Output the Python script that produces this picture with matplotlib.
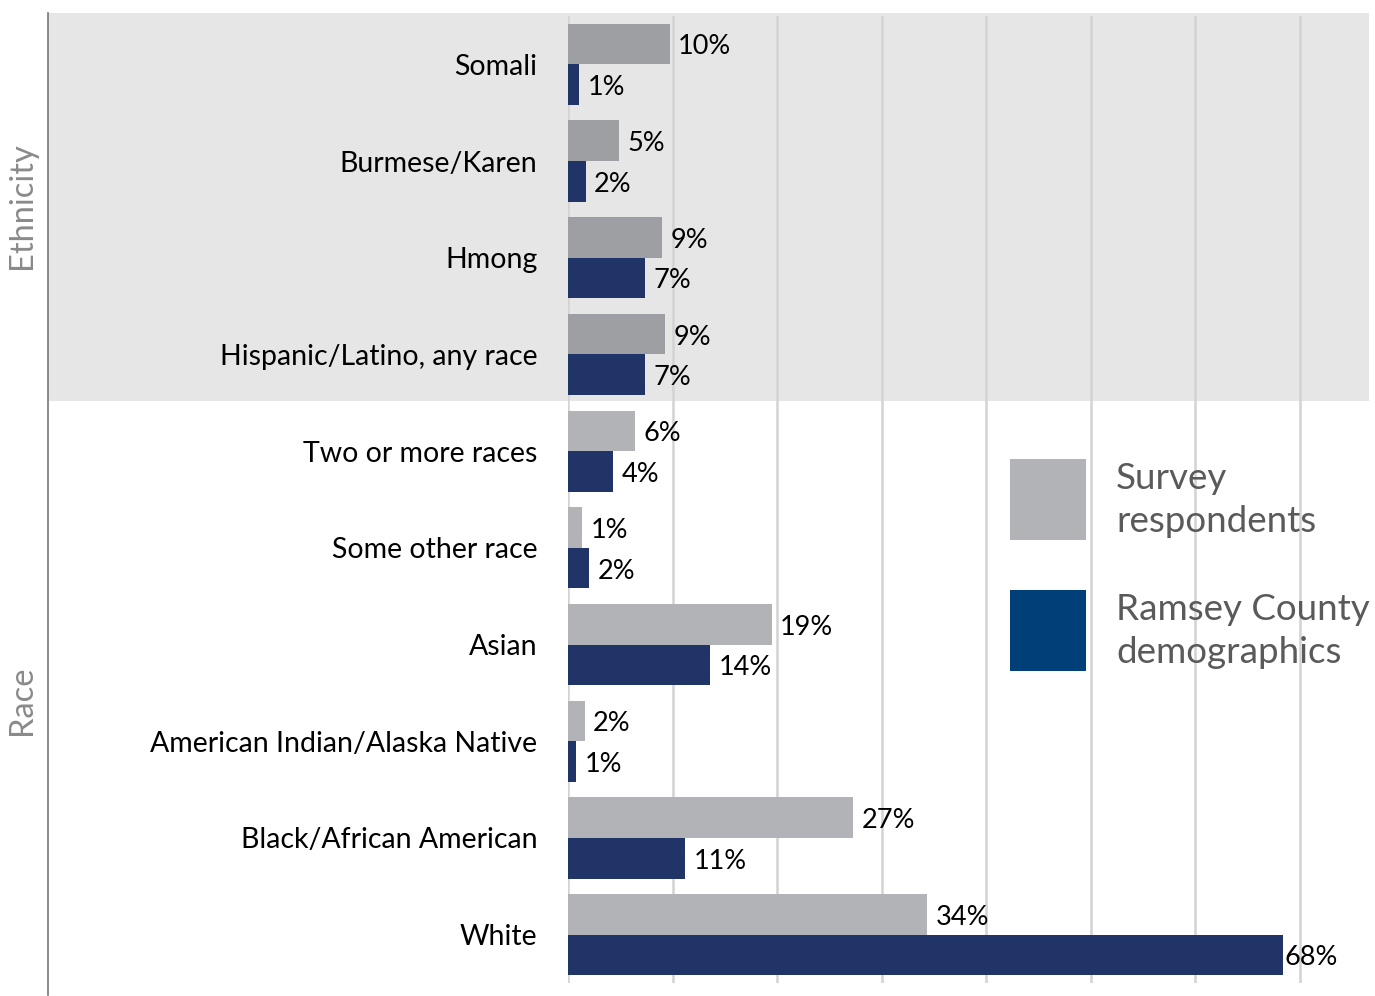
import matplotlib
matplotlib.use("Agg")
import matplotlib.pyplot as plt
import matplotlib.transforms as mtransforms
from matplotlib.patches import Rectangle
import numpy as np

categories = ["Somali", "Burmese/Karen", "Hmong", "Hispanic/Latino, any race",
              "Two or more races", "Some other race", "Asian",
              "American Indian/Alaska Native", "Black/African American", "White"]
groups = ["Ethnicity"] * 4 + ["Race"] * 6
survey = [9.75, 4.85, 9.0, 9.3, 6.4, 1.35, 19.5, 1.6, 27.3, 34.4]
county = [1.05, 1.7, 7.4, 7.4, 4.3, 2.0, 13.6, 0.76, 11.2, 68.4]
survey_labels = ["10%", "5%", "9%", "9%", "6%", "1%", "19%", "2%", "27%", "34%"]
county_labels = ["1%", "2%", "7%", "7%", "4%", "2%", "14%", "1%", "11%", "68%"]
legend_labels = ["Survey\nrespondents", "Ramsey County\ndemographics"]

W, H = 1375, 996
fig = plt.figure(figsize=(W / 100, H / 100), dpi=100)
ax = fig.add_axes([568 / W, (H - 983) / H, (1369 - 568) / W, 967 / H])
ax.patch.set_facecolor("none")

n = len(categories)
y = np.arange(n)
bh = 0.42
off = 0.21
gray_eth, gray_race = "#9d9fa2", "#b1b3b6"
navy = "#203467"
sc = [gray_eth if g == "Ethnicity" else gray_race for g in groups]

ax.barh(y - off, survey, height=bh, color=sc, zorder=2)
ax.barh(y + off, county, height=bh, color=navy, zorder=2)

lfont = "Lato"
vfs = 19.5
dy = 0.03
for i in range(n):
    ax.text(survey[i] + 0.8, y[i] - off + dy, survey_labels[i], va="center", ha="left",
            fontsize=vfs, family=lfont, color="black", zorder=3)
    ax.text(county[i] + 0.8 if county[i] < 60 else county[i] + 0.15, y[i] + off + dy,
            county_labels[i], va="center", ha="left",
            fontsize=vfs, family=lfont, color="black", zorder=3)

ax.set_xlim(0, 76.65)
ax.set_ylim(n - 0.5, -0.5)
ax.set_xticks(np.arange(0, 71, 10))
ax.xaxis.grid(True, color="#d3d3d3", linewidth=1.8, zorder=0.5)
ax.set_axisbelow(True)
ax.tick_params(axis="x", length=0, labelbottom=False)
ax.set_yticks(y)
ax.set_yticklabels(categories, fontsize=20.5, family=lfont)
ax.tick_params(axis="y", length=0, pad=22)
for s in ax.spines.values():
    s.set_visible(False)

# shaded ethnicity band (behind the axes content)
ax.add_patch(Rectangle((48 / W, (H - 401) / H), (1369 - 48) / W, 388 / H,
                       transform=fig.transFigure, facecolor="#e6e6e6",
                       edgecolor="none", zorder=0, clip_on=False))

# left vertical line
fig.add_artist(plt.Line2D([48 / W, 48 / W], [(H - 13) / H, (H - 995) / H],
                          color="#777777", linewidth=1.2))

# group labels
trans2 = mtransforms.blended_transform_factory(fig.transFigure, ax.transData)
ax.text(22 / W, 1.46, "Ethnicity", rotation=90, ha="center", va="center",
        transform=trans2, fontsize=23.5, family=lfont, color="#8a8a8a", clip_on=False)
ax.text(22 / W, 6.58, "Race", rotation=90, ha="center", va="center",
        transform=trans2, fontsize=23.5, family=lfont, color="#8a8a8a", clip_on=False)

# legend
leg_colors = ["#b1b3b6", "#003f78"]
leg_tops = [459, 590]
for lab, col, top in zip(legend_labels, leg_colors, leg_tops):
    fig.add_artist(Rectangle((1010 / W, (H - top - 81) / H), 76 / W, 81 / H,
                             transform=fig.transFigure, facecolor=col, edgecolor="none"))
    fig.text(1116 / W, (H - top - 41) / H, lab, ha="left", va="center",
             fontsize=26.5, family=lfont, color="#5a5a5a", linespacing=1.4)

fig.savefig("out.png", dpi=100)
